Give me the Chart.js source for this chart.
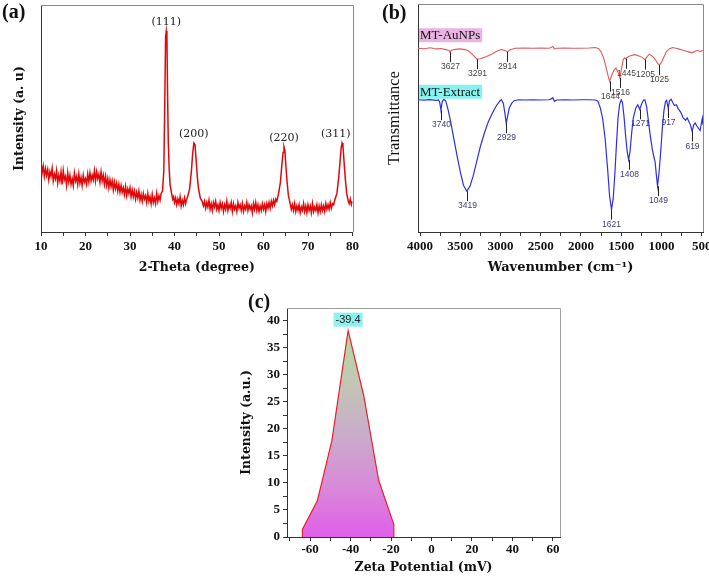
<!DOCTYPE html>
<html><head><meta charset="utf-8">
<script src="https://cdn.jsdelivr.net/npm/chart.js@4.4.1/dist/chart.umd.min.js"></script>
<style>
html,body{margin:0;padding:0;background:#fff;}
body{width:709px;height:577px;position:relative;overflow:hidden;}
canvas{position:absolute;}
</style></head><body>
<canvas id="ca" width="362" height="282" style="left:0;top:0;width:362px;height:282px"></canvas>
<canvas id="cb" width="347" height="282" style="left:362px;top:0;width:347px;height:282px"></canvas>
<canvas id="cc" width="340" height="292" style="left:228px;top:285px;width:340px;height:292px"></canvas>
<script>
// ---------- (a) XRD ----------
const xrdTheta = [
  10,10.25,10.5,10.75,11,11.25,11.5,11.75,12,12.25,12.5,12.75,
  13,13.25,13.5,13.75,14,14.25,14.5,14.75,15,15.25,15.5,15.75,
  16,16.25,16.5,16.75,17,17.25,17.5,17.75,18,18.25,18.5,18.75,
  19,19.25,19.5,19.75,20,20.25,20.5,20.75,21,21.25,21.5,21.75,
  22,22.25,22.5,22.75,23,23.25,23.5,23.75,24,24.25,24.5,24.75,
  25,25.25,25.5,25.75,26,26.25,26.5,26.75,27,27.25,27.5,27.75,
  28,28.25,28.5,28.75,29,29.25,29.5,29.75,30,30.25,30.5,30.75,
  31,31.25,31.5,31.75,32,32.25,32.5,32.75,33,33.25,33.5,33.75,
  34,34.25,34.5,34.75,35,35.25,35.5,35.75,36,36.25,36.5,36.75,37,
  37.3,37.6,37.8,38.0,38.15,38.3,38.45,38.6,38.8,39.0,39.3,39.6,
  39.8,40,40.25,40.5,40.75,41,41.25,41.5,41.75,42,42.25,42.5,42.75,43,
  43.4,43.8,44.1,44.35,44.6,44.85,45.1,45.4,45.8,46.2,
  46.5,46.75,47,47.25,47.5,47.75,48,48.25,48.5,48.75,49,49.25,
  49.5,49.75,50,50.25,50.5,50.75,51,51.25,51.5,51.75,52,52.25,
  52.5,52.75,53,53.25,53.5,53.75,54,54.25,54.5,54.75,55,55.25,
  55.5,55.75,56,56.25,56.5,56.75,57,57.25,57.5,57.75,58,58.25,
  58.5,58.75,59,59.25,59.5,59.75,60,60.25,60.5,60.75,61,61.25,
  61.5,61.75,62,62.25,62.5,62.75,63,
  63.4,63.8,64.1,64.4,64.6,64.8,65.0,65.3,65.6,
  66,66.25,66.5,66.75,67,67.25,67.5,67.75,68,68.25,68.5,68.75,
  69,69.25,69.5,69.75,70,70.25,70.5,70.75,71,71.25,71.5,71.75,
  72,72.25,72.5,72.75,73,73.25,73.5,73.75,74,74.25,74.5,74.75,
  75,75.25,75.5,75.75,76,
  76.5,76.9,77.2,77.45,77.65,77.85,78.1,78.4,78.7,79,79.25,79.5,79.75,80];
const xrdIntensity = [
  31,26,29,24.5,28,25,27.5,23,26.5,24.5,28,22.5,
  25.5,23.5,27,21.5,25,22.5,26.5,21,27,23,24.5,20.5,
  26,22,25,21,23.5,20.5,26,22.5,24.5,21,25.5,21.5,
  24,20.5,25,22,23.5,21,25.5,22,26,22.5,25,23,
  27,22.5,26.5,23.5,25.5,22,26.5,22.5,25,21,24.5,20.5,
  23.5,19.5,23,20,22.5,18.5,22,19,21.5,18,21,17.5,
  20.5,17.5,19.5,16.5,20,16,19,17,19.5,15.5,18.5,15.5,
  18,14.5,17.5,15,18,14,16.5,13.5,17,14.5,16,13,
  17,13.5,15.5,12.5,16.5,13,15,12.5,17,13.5,16,14,17,
  18,27,55,86,88.5,85,60,40,28,21,17.5,14.5,
  15.5,13,15,12,14.5,12.5,15.5,11.5,14,12,15,12.5,14.5,16,
  19,27,35,39.2,38.5,32,25,19,15,13.5,
  11.5,13.5,10.5,13,11,14,10,12.5,9.5,13,11,13.5,
  10,12,9.5,13,10.5,12.5,9,12,10,13.5,9.5,12,
  10.5,13,9,12.5,10,11.5,9,13,10.5,12,9.5,12.5,
  9,11.5,10,13,9.5,12,10,11.5,8.5,12.5,10,13,
  9.5,12,9,11.5,9.5,12.5,10,12,9,12.5,10.5,13,
  10.5,13.5,11.5,14,12,14.5,13.5,
  17,22,29,35,37.5,36,30,22,16,
  12.5,10,12,9.5,12.5,9,11.5,9.5,12,8.5,11,9.5,
  12.5,9,11.5,8.5,12,9.5,11.5,8.5,12.5,9,11,9.5,
  12,8.5,11.5,9,12,9.5,11.5,9,12.5,10,12,10,
  13,10.5,12.5,12,14,
  17,24,31,37,39.2,38,31,23,17,14,12.5,14.5,12,13.5];
const xrdPeakTheta = [38.15, 44.35, 64.6, 77.65];
const xrdPeakIntensity = [88.5, 39.2, 37.5, 39.2];
const xrdPeakLabels = ['(111)', '(200)', '(220)', '(311)'];
const xrdMajorTicks = [10, 20, 30, 40, 50, 60, 70, 80];
const xrdMinorTicks = [15, 25, 35, 45, 55, 65, 75];

// ---------- (b) FTIR ----------
const ftirAuWn = [4025,3950,3870,3800,3740,3680,3640,3627,3610,3560,3500,3440,3400,3360,3320,3291,3250,3180,3100,3040,2990,2950,2914,2880,2820,2700,2600,2500,2400,2370,2350,2330,2300,2200,2100,2000,1900,1820,1780,1750,1720,1690,1660,1644,1620,1590,1565,1540,1516,1495,1475,1460,1445,1420,1380,1330,1280,1240,1205,1175,1150,1110,1070,1045,1025,1000,970,940,900,860,820,780,740,700,660,620,580,550,520,500,484];
const ftirAuT = [80.6,80.4,80.8,80.3,80.5,80.0,79.6,78.9,79.7,80.1,80.3,80.0,79.5,78.2,76.8,75.8,76.0,76.9,78.2,79.4,80.0,79.7,79.0,79.9,80.6,80.7,80.6,80.7,80.6,80.9,81.4,80.3,80.6,80.7,80.6,80.6,80.7,80.9,80.4,79.0,76.5,72.5,68.0,66.0,68.5,71.0,71.9,70.0,67.6,72.0,75.6,76.4,76.0,76.8,77.4,77.8,77.2,76.6,75.6,77.0,78.0,77.0,75.3,73.8,73.2,74.5,76.8,79.0,80.4,80.9,80.6,80.2,79.8,79.4,79.0,78.6,79.3,79.7,79.1,79.5,79.6];
const ftirExWn = [4025,3950,3880,3800,3770,3755,3740,3725,3705,3680,3650,3620,3580,3540,3500,3460,3419,3380,3340,3300,3250,3200,3150,3100,3050,3010,2990,2965,2945,2929,2910,2890,2860,2830,2780,2700,2600,2500,2400,2370,2350,2330,2300,2200,2100,2000,1900,1820,1790,1760,1730,1700,1670,1645,1621,1600,1580,1560,1540,1520,1500,1485,1465,1445,1425,1408,1390,1370,1350,1320,1295,1271,1250,1225,1205,1185,1165,1140,1115,1095,1080,1065,1049,1030,1010,990,970,950,935,917,900,880,860,840,815,790,760,730,700,680,660,640,619,600,580,560,540,520,505,492,484];
const ftirExT = [58.0,57.8,58.1,57.7,57.9,56.8,53.4,57.0,58.2,57.4,53.5,48.5,41.0,33.5,26.5,20.5,17.9,20.0,24.5,30.3,37.5,43.4,48.5,52.2,55.5,57.4,58.0,56.5,52.0,47.7,51.0,54.5,56.5,57.6,58.0,57.9,58.0,57.9,58.0,58.4,58.9,57.3,57.9,58.0,57.9,58.0,58.0,57.9,57.4,54.5,49.5,41.0,28.0,16.0,9.8,14.5,25.0,38.0,50.0,56.0,58.0,56.8,50.5,42.0,35.0,31.7,35.5,43.5,50.0,54.3,55.8,53.8,55.8,57.8,57.9,55.0,49.5,42.5,36.5,33.0,31.0,25.5,20.1,26.0,35.0,45.0,53.0,57.2,57.8,54.3,57.5,58.2,56.8,55.5,55.8,54.0,52.5,50.0,49.0,50.0,48.5,47.0,44.1,47.0,47.8,46.5,45.5,44.5,47.5,50.0,47.0];
const ftirAuPeaks = [3627, 3291, 2914, 1644, 1516, 1445, 1205, 1025];
const ftirExPeaks = [3740, 3419, 2929, 1621, 1408, 1271, 1049, 917, 619];
const ftirSeriesNames = ['MT-AuNPs', 'MT-Extract'];
const ftirMajorTicks = [4000, 3500, 3000, 2500, 2000, 1500, 1000, 500];
const ftirMinorTicks = [3750, 3250, 2750, 2250, 1750, 1250, 750];

// ---------- (c) Zeta ----------
const zetaMv = [-63.8, -63.8, -56.4, -49.2, -41.2, -33.5, -26.1, -18.6, -18.6];
const zetaIntensity = [0, 1.4, 6.7, 17.9, 38.2, 26.2, 10.5, 2.3, 0];
const zetaPeakLabel = '-39.4';
const zetaXMajor = [-60, -40, -20, 0, 20, 40, 60];
const zetaXMinor = [-70, -50, -30, -10, 10, 30, 50];
const zetaYMajor = [0, 5, 10, 15, 20, 25, 30, 35, 40];
const zetaYMinor = [2.5, 7.5, 12.5, 17.5, 22.5, 27.5, 32.5, 37.5];

// ---------- helpers ----------
const TICK_FONT = {family: "'Liberation Serif', serif", weight: 'bold', size: 13};
const TITLE_FONT = {family: "'DejaVu Serif', serif", weight: 'bold', size: 12.5};
const AXIS_COL = '#333';
const sortedTicks = (a, b) => a.concat(b).sort((p, q) => p - q).map(v => ({value: v}));
const pts = (xs, ys) => xs.map((x, i) => ({x: x, y: ys[i]}));

function framePlugin(color) {
  return {id: 'frame', beforeDatasetsDraw(chart) {
    const {ctx, chartArea: a} = chart;
    ctx.save(); ctx.strokeStyle = color; ctx.lineWidth = 1;
    ctx.beginPath();
    ctx.moveTo(a.left, Math.round(a.top) + 0.5);
    ctx.lineTo(Math.round(a.right) + 0.5, Math.round(a.top) + 0.5);
    ctx.lineTo(Math.round(a.right) + 0.5, a.bottom);
    ctx.stroke(); ctx.restore();
  }};
}
function drawPanelLabel(ctx, text, x, y) {
  ctx.save();
  ctx.font = "bold 20px 'Liberation Serif', serif";
  ctx.fillStyle = '#111'; ctx.textAlign = 'left'; ctx.textBaseline = 'middle';
  ctx.fillText(text, x, y);
  ctx.restore();
}

// ---------- chart (a) ----------
new Chart(document.getElementById('ca'), {
  type: 'line',
  data: {datasets: [{data: pts(xrdTheta, xrdIntensity), borderColor: '#e00808', borderWidth: 1.5, pointRadius: 0, tension: 0, fill: false}]},
  options: {
    responsive: false, animation: false, devicePixelRatio: 1,
    layout: {padding: {left: 0, top: 5, right: 8, bottom: 0}},
    plugins: {legend: {display: false}, tooltip: {enabled: false}},
    scales: {
      x: {type: 'linear', min: 10, max: 80,
        afterBuildTicks: s => { s.ticks = sortedTicks(xrdMajorTicks, xrdMinorTicks); },
        ticks: {autoSkip: false, maxRotation: 0, padding: 3, color: '#111', font: TICK_FONT,
          callback: v => xrdMajorTicks.includes(v) ? String(v) : ''},
        grid: {display: true, drawOnChartArea: false, tickLength: 4, color: AXIS_COL},
        border: {display: true, color: AXIS_COL, width: 1},
        title: {display: true, text: '2-Theta (degree)', color: '#111', font: TITLE_FONT, padding: {top: 0, bottom: 7}},
        afterFit: s => { s.height = 50; }},
      y: {min: 0, max: 100,
        ticks: {display: false}, grid: {display: false},
        border: {display: true, color: AXIS_COL, width: 1},
        title: {display: true, text: 'Intensity (a. u)', color: '#111', font: TITLE_FONT, padding: {top: 12, bottom: 0}},
        afterFit: s => { s.width = 41; }}
    }
  },
  plugins: [framePlugin('#8a8a8a'), {id: 'xrdLabels', afterDatasetsDraw(chart) {
    const {ctx, scales: {x, y}, chartArea: a} = chart;
    ctx.save();
    ctx.font = "11px 'DejaVu Serif', serif"; ctx.fillStyle = '#222';
    ctx.textAlign = 'center'; ctx.textBaseline = 'middle';
    xrdPeakTheta.forEach((t, i) => {
      const w = ctx.measureText(xrdPeakLabels[i]).width;
      let px = x.getPixelForValue(t);
      px = Math.min(px, a.right - w / 2 - 2);
      ctx.fillText(xrdPeakLabels[i], px, y.getPixelForValue(xrdPeakIntensity[i]) - 9);
    });
    ctx.restore();
  }, afterDraw(chart) { drawPanelLabel(chart.ctx, '(a)', 2, 13); }}]
});

// ---------- chart (b) ----------
new Chart(document.getElementById('cb'), {
  type: 'line',
  data: {datasets: [
    {data: pts(ftirAuWn, ftirAuT), borderColor: '#e25a5a', borderWidth: 1.1, pointRadius: 0, tension: 0, fill: false},
    {data: pts(ftirExWn, ftirExT), borderColor: '#2f2fe2', borderWidth: 1.2, pointRadius: 0, tension: 0, fill: false}
  ]},
  options: {
    responsive: false, animation: false, devicePixelRatio: 1,
    layout: {padding: {left: 0, top: 4, right: 6, bottom: 0}},
    plugins: {legend: {display: false}, tooltip: {enabled: false}},
    scales: {
      x: {type: 'linear', reverse: true, min: 484, max: 4025,
        afterBuildTicks: s => { s.ticks = sortedTicks(ftirMajorTicks, ftirMinorTicks); },
        ticks: {autoSkip: false, maxRotation: 0, padding: 3, color: '#111', font: TICK_FONT,
          callback: v => ftirMajorTicks.includes(v) ? String(v) : ''},
        grid: {display: true, drawOnChartArea: false, tickLength: 4, color: AXIS_COL},
        border: {display: true, color: AXIS_COL, width: 1},
        title: {display: true, text: 'Wavenumber (cm\u207B\u00B9)', color: '#111', font: {family: "'DejaVu Serif', serif", weight: 'bold', size: 13}, padding: {top: 0, bottom: 7}},
        afterFit: s => { s.height = 50; }},
      y: {min: 0, max: 100,
        ticks: {display: false}, grid: {display: false},
        border: {display: true, color: AXIS_COL, width: 1},
        title: {display: true, text: 'Transmittance', color: '#111', font: {family: "'Liberation Serif', serif", size: 16.5}, padding: {top: 23, bottom: 0}},
        afterFit: s => { s.width = 56; }}
    }
  },
  plugins: [framePlugin('#8a8a8a'), {id: 'ftirLabels', afterDatasetsDraw(chart) {
    const {ctx, scales: {x, y}, chartArea: a} = chart;
    ctx.save();
    ctx.font = "8.5px 'Liberation Sans', sans-serif";
    ctx.textAlign = 'center'; ctx.textBaseline = 'top';
    const draw = (peaks, wns, vals, col) => {
      peaks.forEach(wn => {
        const v = vals[wns.indexOf(wn)];
        const px = Math.round(x.getPixelForValue(wn)) + 0.5;
        const py = y.getPixelForValue(v);
        ctx.strokeStyle = '#222'; ctx.lineWidth = 1;
        ctx.beginPath(); ctx.moveTo(px, py); ctx.lineTo(px, py + 10); ctx.stroke();
        ctx.fillStyle = col;
        ctx.fillText(String(wn), px, py + 10.5);
      });
    };
    draw(ftirAuPeaks, ftirAuWn, ftirAuT, '#444');
    draw(ftirExPeaks, ftirExWn, ftirExT, '#3b3b7a');
    const tag = (text, bg, cy) => {
      ctx.font = "13px 'Liberation Serif', serif";
      const w = ctx.measureText(text).width;
      ctx.fillStyle = bg; ctx.fillRect(a.left + 1, cy - 7, w + 3, 14);
      ctx.fillStyle = '#111'; ctx.textAlign = 'left'; ctx.textBaseline = 'middle';
      ctx.fillText(text, a.left + 2, cy + 0.5);
    };
    tag(ftirSeriesNames[0], '#eab4e2', y.getPixelForValue(ftirAuT[0]) - 13);
    tag(ftirSeriesNames[1], '#86f3f0', y.getPixelForValue(ftirExT[0]) - 8);
    ctx.restore();
  }, afterDraw(chart) { drawPanelLabel(chart.ctx, '(b)', 20, 14); }}]
});

// ---------- chart (c) ----------
new Chart(document.getElementById('cc'), {
  type: 'line',
  data: {datasets: [{data: pts(zetaMv, zetaIntensity), borderColor: '#e8202c', borderWidth: 1.2, pointRadius: 0, tension: 0, fill: 'origin',
    backgroundColor: (c) => {
      const ch = c.chart; if (!ch.chartArea) return '#d8a0d8';
      const ys = ch.scales.y;
      const g = ch.ctx.createLinearGradient(0, ys.getPixelForValue(38), 0, ys.getPixelForValue(0));
      g.addColorStop(0, '#b2dba0');
      g.addColorStop(0.25, '#c2c6b4');
      g.addColorStop(0.5, '#caaccc');
      g.addColorStop(0.75, '#d88ad8');
      g.addColorStop(1, '#e15ee9');
      return g;
    }}]},
  options: {
    responsive: false, animation: false, devicePixelRatio: 1,
    layout: {padding: {left: 0, top: 23, right: 8, bottom: 0}},
    plugins: {legend: {display: false}, tooltip: {enabled: false}},
    scales: {
      x: {type: 'linear', min: -71.4, max: 63.5,
        afterBuildTicks: s => { s.ticks = sortedTicks(zetaXMajor, zetaXMinor); },
        ticks: {autoSkip: false, maxRotation: 0, padding: 1, color: '#111', font: TICK_FONT,
          callback: v => zetaXMajor.includes(v) ? String(v) : ''},
        grid: {display: true, drawOnChartArea: false, tickLength: 4, color: AXIS_COL},
        border: {display: true, color: AXIS_COL, width: 1},
        title: {display: true, text: 'Zeta Potential (mV)', color: '#111', font: TITLE_FONT, padding: {top: 0, bottom: 1.5}},
        afterFit: s => { s.height = 40; }},
      y: {min: 0, max: 42.4,
        afterBuildTicks: s => { s.ticks = sortedTicks(zetaYMajor, zetaYMinor); },
        ticks: {autoSkip: false, padding: 3, color: '#111', font: TICK_FONT,
          callback: v => zetaYMajor.includes(v) ? String(v) : ''},
        grid: {display: true, drawOnChartArea: false, tickLength: 4, color: AXIS_COL},
        border: {display: true, color: AXIS_COL, width: 1},
        title: {display: true, text: 'Intensity (a.u.)', color: '#111', font: TITLE_FONT, padding: {top: 11.5, bottom: 0}},
        afterFit: s => { s.width = 59; }}
    }
  },
  plugins: [framePlugin('#a0a0a0'), {id: 'zetaLabel', afterDatasetsDraw(chart) {
    const {ctx, scales: {x, y}} = chart;
    let k = 0; zetaIntensity.forEach((v, i) => { if (v > zetaIntensity[k]) k = i; });
    const px = x.getPixelForValue(zetaMv[k]), py = y.getPixelForValue(zetaIntensity[k]) - 11;
    ctx.save();
    ctx.font = "11px 'Liberation Sans', sans-serif";
    const w = ctx.measureText(zetaPeakLabel).width;
    ctx.fillStyle = '#8ef3ef'; ctx.fillRect(px - w / 2 - 2, py - 7, w + 4, 14);
    ctx.fillStyle = '#222'; ctx.textAlign = 'center'; ctx.textBaseline = 'middle';
    ctx.fillText(zetaPeakLabel, px, py + 0.5);
    ctx.restore();
  }, afterDraw(chart) { drawPanelLabel(chart.ctx, '(c)', 20, 18); }}]
});
</script>
</body></html>
